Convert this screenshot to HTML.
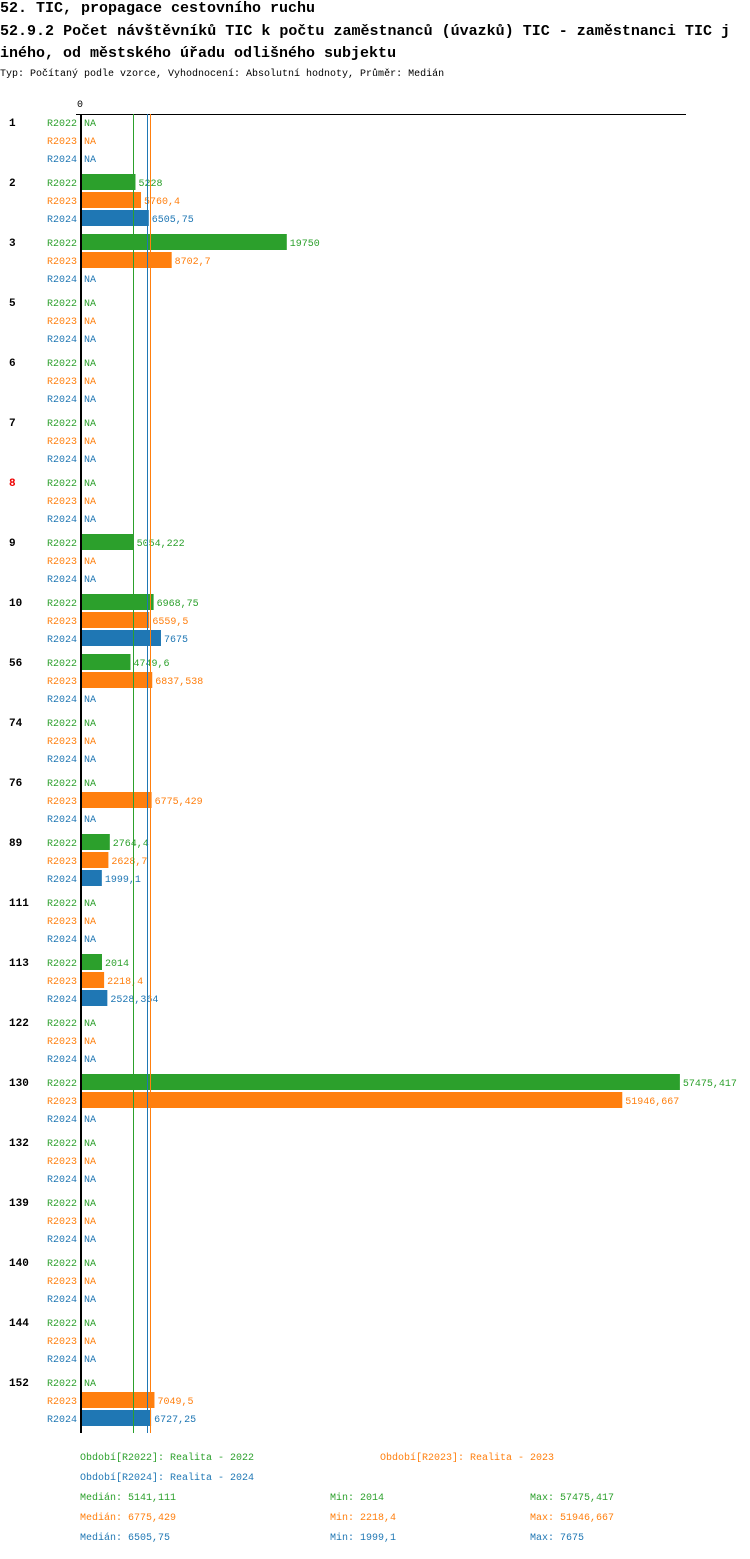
<!DOCTYPE html>
<html><head><meta charset="utf-8"><style>
body{margin:0;background:#fff;width:750px;height:1554px;overflow:hidden;font-family:"Liberation Mono",monospace}
svg text{font-family:"Liberation Mono",monospace}
</style></head><body>
<svg id="c" width="750" height="1554">
<text x="0" y="12" font-size="15" font-weight="bold">52. TIC, propagace cestovního ruchu</text>
<text x="0" y="35" font-size="15" font-weight="bold" textLength="730">52.9.2 Počet návštěvníků TIC k počtu zaměstnanců (úvazků) TIC - zaměstnanci TIC j</text>
<text x="0" y="57" font-size="15" font-weight="bold">iného, od městského úřadu odlišného subjektu</text>
<text x="0" y="76" font-size="10">Typ: Počítaný podle vzorce, Vyhodnocení: Absolutní hodnoty, Průměr: Medián</text>
<text x="77" y="107" font-size="10">0</text>
<line x1="76" y1="114.5" x2="686" y2="114.5" stroke="#000"/>
<g id="g"></g>
</svg>
<script>
const groups=["1","2","3","5","6","7","8","9","10","56","74","76","89","111","113","122","130","132","139","140","144","152"];
const r2022=[null,5228,19750,null,null,null,null,5054.222,6968.75,4749.6,null,null,2764.4,null,2014,null,57475.417,null,null,null,null,null];
const r2023=[null,5760.4,8702.7,null,null,null,null,null,6559.5,6837.538,null,6775.429,2628.7,null,2218.4,null,51946.667,null,null,null,null,7049.5];
const r2024=[null,6505.75,null,null,null,null,null,null,7675,null,null,null,1999.1,null,2528.364,null,null,null,null,null,null,6727.25];
const seriesNames=["R2022","R2023","R2024"];
const medians=[5141.111,6775.429,6505.75];
const mins=[2014,2218.4,1999.1];
const maxs=[57475.417,51946.667,7675];
const medianLabels=["5141,111","6775,429","6505,75"];
const minLabels=["2014","2218,4","1999,1"];
const maxLabels=["57475,417","51946,667","7675"];
const colors=["#2ca02c","#ff7f0e","#1f77b4"];
const X0=81,K=0.01042;
const x=v=>X0+v*K;
const fmt=v=>String(Math.round(v*1000)/1000).replace('.',',');
const ns="http://www.w3.org/2000/svg";
const g=document.getElementById('g');
function mk(t,a,txt){const e=document.createElementNS(ns,t);for(const k in a)e.setAttribute(k,a[k]);if(txt!=null)e.textContent=txt;g.appendChild(e);return e;}
const data=[r2022,r2023,r2024];
const yTop=114,yBottom=1433;
groups.forEach((gl,i)=>{
  const y0=122+i*60;
  const t=mk('text',{x:9,y:y0+4,'font-size':11,'font-weight':'bold',fill:gl==="8"?"#e00":"#000"},gl);
  
  
  for(let s=0;s<3;s++){
    const y=y0+s*18,v=data[s][i];
    const l=mk('text',{x:47,y:y+4,'font-size':10,fill:colors[s]},seriesNames[s]);
    
    
    if(v==null){
      const n=mk('text',{x:84,y:y+4,'font-size':10,fill:colors[s]},'NA');
      
      
    }else{
      const b=mk('rect',{x:X0,y:y-8,width:x(v)-X0,height:16,fill:colors[s]});
      
      
      const vl=mk('text',{x:x(v)+3,y:y+4,'font-size':10,fill:colors[s]},fmt(v));
      
      
    }
  }
});
medians.forEach((m,s)=>{
  const xm=Math.round(x(m))-1.5;
  const l=mk('line',{x1:xm,y1:yTop,x2:xm,y2:yBottom,stroke:colors[s],'stroke-width':1});
  
  
});
const ax=mk('line',{x1:81,y1:yTop,x2:81,y2:yBottom,stroke:'#000','stroke-width':2});


const leg=[[80,1460,"Období[R2022]: Realita - 2022",0],[380,1460,"Období[R2023]: Realita - 2023",1],[80,1480,"Období[R2024]: Realita - 2024",2]];
leg.forEach(a=>{const e=mk('text',{x:a[0],y:a[1],'font-size':10,fill:colors[a[3]]},a[2]);

});
for(let s=0;s<3;s++){
  const y=1500+s*20;
  const a=mk('text',{x:80,y:y,'font-size':10,fill:colors[s]},"Medián: "+medianLabels[s]);
  
  
  const b=mk('text',{x:330,y:y,'font-size':10,fill:colors[s]},"Min: "+minLabels[s]);
  
  
  const c=mk('text',{x:530,y:y,'font-size':10,fill:colors[s]},"Max: "+maxLabels[s]);
  
  
}
</script>
</body></html>
